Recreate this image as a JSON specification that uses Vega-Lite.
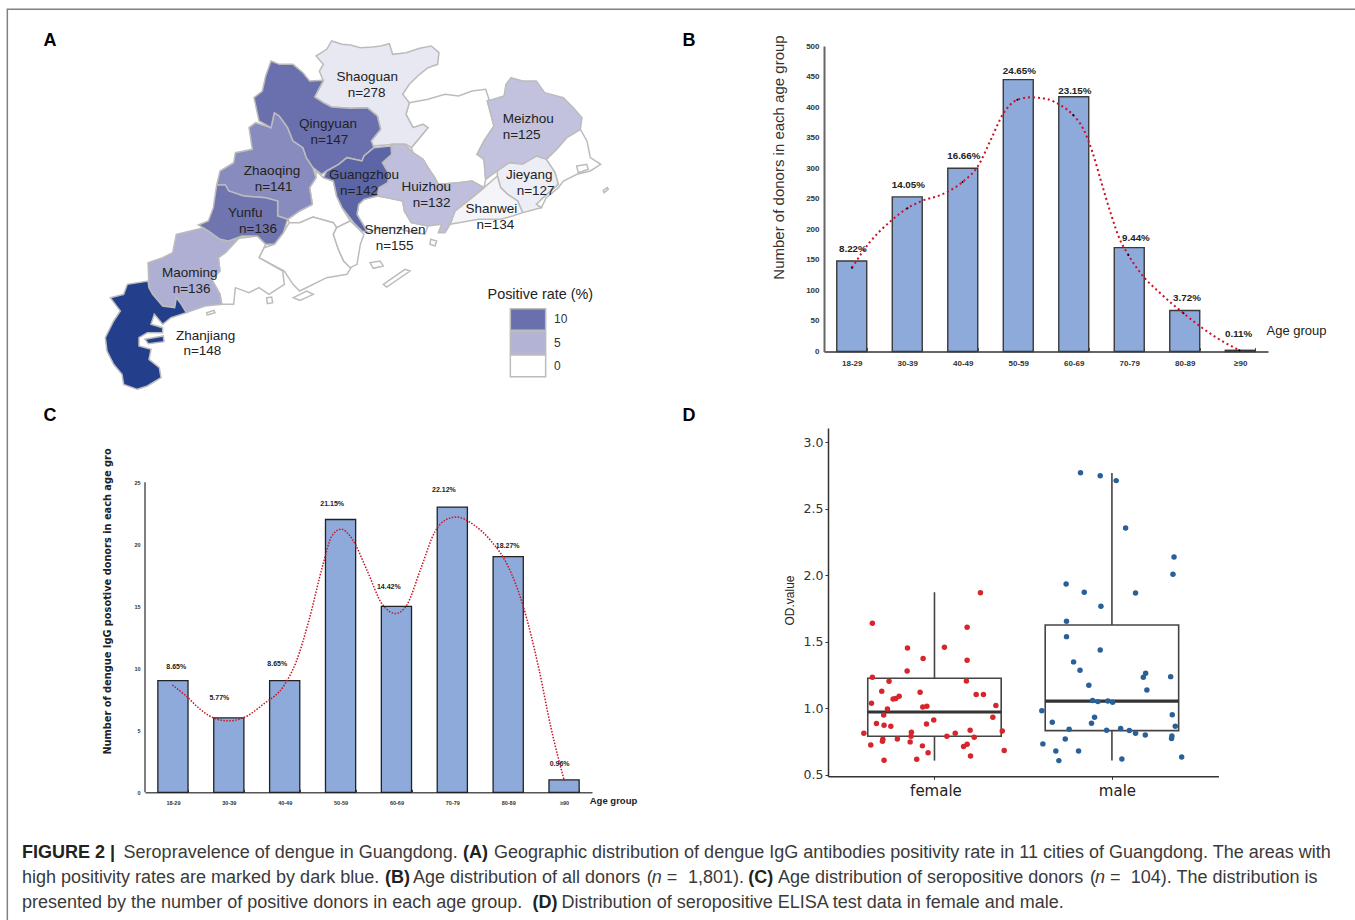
{
"$schema":"https://vega.github.io/schema/vega-lite/v6.json",
"padding":0,"background":"white","bounds":"flush","spacing":0,"columns":4,"align":"each",
"config":{"view":{"stroke":null},"font":"Liberation Sans","text":{"fontSize":1}},
"datasets":{
"empty":[{"s":""}],
"bars1":[{"age":"18-29","n":148},{"age":"30-39","n":253},{"age":"40-49","n":300},{"age":"50-59","n":445},{"age":"60-69","n":417},{"age":"70-79","n":170},{"age":"80-89","n":67},{"age":"≥90","n":2}],
"labels1":[{"p":"8.22%","lx":0.52,"ly":168},{"p":"14.05%","lx":1.52,"ly":272},{"p":"16.66%","lx":2.52,"ly":320},{"p":"24.65%","lx":3.52,"ly":459},{"p":"23.15%","lx":4.52,"ly":427},{"p":"9.44%","lx":5.62,"ly":186},{"p":"3.72%","lx":6.54,"ly":88},{"p":"0.11%","lx":7.47,"ly":28}],
"curve1":[{"x":0.503,"y":137,"node":1},{"x":0.817,"y":178},{"x":1.209,"y":214},{"x":1.503,"y":234.5,"node":1},{"x":1.765,"y":246.5},{"x":2.124,"y":257},{"x":2.497,"y":277.5,"node":1},{"x":2.778,"y":304},{"x":3.007,"y":347},{"x":3.222,"y":388},{"x":3.484,"y":412,"node":1},{"x":3.725,"y":416},{"x":4.02,"y":413},{"x":4.28,"y":402},{"x":4.49,"y":387,"node":1},{"x":4.673,"y":364},{"x":4.84,"y":325.5},{"x":5.0,"y":276},{"x":5.163,"y":227},{"x":5.327,"y":184},{"x":5.484,"y":158,"node":1},{"x":5.72,"y":126.5},{"x":6.046,"y":96.5},{"x":6.477,"y":62.7,"node":1},{"x":6.83,"y":37.6},{"x":7.22,"y":14.7},{"x":7.484,"y":2,"node":1}],
"bars2":[{"age":"18-29","n":9},{"age":"30-39","n":6},{"age":"40-49","n":9},{"age":"50-59","n":22},{"age":"60-69","n":15},{"age":"70-79","n":23},{"age":"80-89","n":19},{"age":"≥90","n":1}],
"labels2":[{"p":"8.65%","lx":0.559,"ly":10.13},{"p":"5.77%","lx":1.331,"ly":7.58},{"p":"8.65%","lx":2.367,"ly":10.31},{"p":"21.15%","lx":3.35,"ly":23.27},{"p":"14.42%","lx":4.364,"ly":16.59},{"p":"22.12%","lx":5.35,"ly":24.36},{"p":"18.27%","lx":6.49,"ly":19.85},{"p":"0.96%","lx":7.42,"ly":2.28}],
"curve2":[{"x":0.49,"y":8.65,"node":1},{"x":0.735,"y":7.77},{"x":0.986,"y":6.7},{"x":1.237,"y":5.98},{"x":1.488,"y":5.76,"node":1},{"x":1.77,"y":6.03},{"x":2.116,"y":7.1},{"x":2.493,"y":8.65,"node":1},{"x":2.71,"y":10.58},{"x":2.93,"y":13.8},{"x":3.184,"y":18.35},{"x":3.34,"y":20.63},{"x":3.51,"y":21.22,"node":1},{"x":3.717,"y":20.36},{"x":3.969,"y":17.95},{"x":4.25,"y":15.14},{"x":4.49,"y":14.42,"node":1},{"x":4.69,"y":15.14},{"x":4.94,"y":18.09},{"x":5.19,"y":21.03},{"x":5.38,"y":21.97},{"x":5.57,"y":22.2,"node":1},{"x":5.884,"y":21.57},{"x":6.2,"y":20.23},{"x":6.49,"y":18.3,"node":1},{"x":6.76,"y":15.14},{"x":7.045,"y":10.05},{"x":7.265,"y":5.22},{"x":7.504,"y":0.94,"node":1}],
"boxes":[{"sex":"female","pos":1,"left":0.624,"right":1.376,"q1":0.788,"median":0.971,"q3":1.225,"max":1.872,"min":0.605},{"sex":"male","pos":2,"left":1.624,"right":2.376,"q1":0.831,"median":1.052,"q3":1.626,"max":2.769,"min":0.605}],
"od":[
{"sex":"female","p":0.650,"od":1.638},{"sex":"female","p":1.259,"od":1.869},{"sex":"female","p":1.184,"od":1.608},{"sex":"female","p":0.848,"od":1.453},{"sex":"female","p":1.056,"od":1.458},{"sex":"female","p":0.936,"od":1.373},{"sex":"female","p":1.184,"od":1.360},{"sex":"female","p":0.846,"od":1.280},{"sex":"female","p":0.650,"od":1.232},{"sex":"female","p":0.744,"od":1.202},{"sex":"female","p":1.180,"od":1.205},{"sex":"female","p":0.703,"od":1.127},{"sex":"female","p":0.919,"od":1.119},{"sex":"female","p":0.801,"od":1.089},{"sex":"female","p":0.782,"od":1.072},{"sex":"female","p":0.767,"od":1.069},{"sex":"female","p":1.235,"od":1.102},{"sex":"female","p":1.276,"od":1.102},{"sex":"female","p":0.645,"od":1.037},{"sex":"female","p":1.346,"od":1.019},{"sex":"female","p":0.957,"od":1.014},{"sex":"female","p":0.934,"od":1.009},{"sex":"female","p":0.735,"od":0.994},{"sex":"female","p":0.714,"od":0.949},{"sex":"female","p":1.329,"od":0.931},{"sex":"female","p":0.996,"od":0.911},{"sex":"female","p":0.673,"od":0.884},{"sex":"female","p":0.716,"od":0.871},{"sex":"female","p":0.754,"od":0.864},{"sex":"female","p":0.955,"od":0.881},{"sex":"female","p":1.201,"od":0.834},{"sex":"female","p":1.382,"od":0.828},{"sex":"female","p":0.602,"od":0.811},{"sex":"female","p":0.870,"od":0.818},{"sex":"female","p":1.117,"od":0.811},{"sex":"female","p":0.868,"od":0.788},{"sex":"female","p":1.070,"od":0.788},{"sex":"female","p":1.224,"od":0.781},{"sex":"female","p":0.709,"od":0.766},{"sex":"female","p":0.707,"od":0.751},{"sex":"female","p":0.791,"od":0.768},{"sex":"female","p":0.863,"od":0.746},{"sex":"female","p":0.641,"od":0.723},{"sex":"female","p":0.932,"od":0.716},{"sex":"female","p":1.184,"od":0.728},{"sex":"female","p":1.164,"od":0.711},{"sex":"female","p":1.393,"od":0.681},{"sex":"female","p":0.964,"od":0.665},{"sex":"female","p":1.203,"od":0.640},{"sex":"female","p":0.900,"od":0.615},{"sex":"female","p":0.716,"od":0.608},
{"sex":"male","p":1.823,"od":2.772},{"sex":"male","p":1.934,"od":2.749},{"sex":"male","p":2.024,"od":2.712},{"sex":"male","p":2.077,"od":2.356},{"sex":"male","p":2.350,"od":2.137},{"sex":"male","p":2.344,"od":2.007},{"sex":"male","p":1.742,"od":1.934},{"sex":"male","p":1.844,"od":1.872},{"sex":"male","p":2.133,"od":1.867},{"sex":"male","p":1.938,"od":1.766},{"sex":"male","p":1.744,"od":1.653},{"sex":"male","p":1.744,"od":1.538},{"sex":"male","p":1.934,"od":1.438},{"sex":"male","p":1.784,"od":1.348},{"sex":"male","p":1.820,"od":1.285},{"sex":"male","p":2.190,"od":1.262},{"sex":"male","p":2.177,"od":1.232},{"sex":"male","p":2.331,"od":1.237},{"sex":"male","p":1.870,"od":1.172},{"sex":"male","p":2.197,"od":1.137},{"sex":"male","p":1.891,"od":1.057},{"sex":"male","p":1.921,"od":1.049},{"sex":"male","p":1.977,"od":1.054},{"sex":"male","p":2.004,"od":1.044},{"sex":"male","p":1.605,"od":0.981},{"sex":"male","p":2.340,"od":0.951},{"sex":"male","p":1.902,"od":0.931},{"sex":"male","p":1.664,"od":0.894},{"sex":"male","p":1.885,"od":0.886},{"sex":"male","p":2.357,"od":0.864},{"sex":"male","p":1.759,"od":0.841},{"sex":"male","p":1.970,"od":0.834},{"sex":"male","p":2.049,"od":0.846},{"sex":"male","p":2.098,"od":0.831},{"sex":"male","p":2.133,"od":0.811},{"sex":"male","p":2.188,"od":0.798},{"sex":"male","p":2.338,"od":0.791},{"sex":"male","p":2.336,"od":0.771},{"sex":"male","p":1.737,"od":0.768},{"sex":"male","p":1.611,"od":0.731},{"sex":"male","p":1.684,"od":0.678},{"sex":"male","p":1.812,"od":0.678},{"sex":"male","p":1.701,"od":0.605},{"sex":"male","p":2.056,"od":0.618},{"sex":"male","p":2.393,"od":0.632}],
"mapLabels":[{"t":"Shaoguan","lon":832,"lat":138},{"t":"n=278","lon":830,"lat":186},{"t":"Qingyuan","lon":714,"lat":279},{"t":"n=147","lon":718,"lat":326},{"t":"Zhaoqing","lon":546,"lat":421},{"t":"n=141","lon":551,"lat":468},{"t":"Guangzhou","lon":822,"lat":433},{"t":"n=142","lon":807,"lat":481},{"t":"Yunfu","lon":466,"lat":545},{"t":"n=136","lon":504,"lat":593},{"t":"Huizhou","lon":1009,"lat":469},{"t":"n=132","lon":1025,"lat":517},{"t":"Meizhou","lon":1315,"lat":263},{"t":"n=125","lon":1295,"lat":311},{"t":"Jieyang","lon":1318,"lat":432},{"t":"n=127","lon":1337,"lat":480},{"t":"Shanwei","lon":1204,"lat":534},{"t":"n=134","lon":1216,"lat":582},{"t":"Shenzhen","lon":915,"lat":597},{"t":"n=155","lon":914,"lat":645},{"t":"Maoming","lon":299,"lat":725},{"t":"n=136","lon":305,"lat":773},{"t":"Zhanjiang","lon":347,"lat":916},{"t":"n=148","lon":337,"lat":961}],
"legendTitle":[{"t":"Positive rate (%)","lon":1351,"lat":791}],
"legendLabels":[{"t":"10","lon":1412,"lat":865},{"t":"5","lon":1402,"lat":935},{"t":"0","lon":1402,"lat":1005}],
"letters":[{"t":"A","lon":-120,"lat":30},{"t":"B","lon":1797,"lat":30},{"t":"C","lon":-120,"lat":1155},{"t":"D","lon":1797,"lat":1155}],
"capReg":[{"x":123.6,"y":26,"t":"Seropravelence of dengue in Guangdong."},{"x":494,"y":26,"t":"Geographic distribution of dengue IgG antibodies positivity rate in 11 cities of Guangdong. The areas with"},{"x":22,"y":51,"t":"high positivity rates are marked by dark blue."},{"x":413,"y":51,"t":"Age distribution of all donors"},{"x":646.7,"y":51,"t":"("},{"x":666.7,"y":51,"t":"="},{"x":688,"y":51,"t":"1,801)."},{"x":778,"y":51,"t":"Age distribution of seropositive donors"},{"x":1090,"y":51,"t":"("},{"x":1110,"y":51,"t":"="},{"x":1130.7,"y":51,"t":"104). The distribution is"},{"x":22,"y":76,"t":"presented by the number of positive donors in each age group."},{"x":561.6,"y":76,"t":"Distribution of seropositive ELISA test data in female and male."}],
"capBold":[{"x":22,"y":26,"t":"FIGURE 2 |"},{"x":463,"y":26,"t":"(A)"},{"x":385,"y":51,"t":"(B)"},{"x":748.3,"y":51,"t":"(C)"},{"x":532.5,"y":76,"t":"(D)"}],
"capIt":[{"x":651.7,"y":51,"t":"n"},{"x":1095,"y":51,"t":"n"}]
},
"concat":[
 {"width":145,"height":45,
  "projection":{"type":"identity","scale":0.33333,"translate":[90,30]},
  "layer":[
   {"data":{"values":[
    {"type":"Feature","properties":{"name":"Heyuan","rate":0},"geometry":{"type":"Polygon","coordinates":[[[958,215],[1014,205],[1065,190],[1106,195],[1146,180],[1187,175],[1197,205],[1192,210],[1212,285],[1182,330],[1161,370],[1182,385],[1187,445],[1182,470],[1146,450],[1106,455],[1045,460],[1014,410],[999,385],[969,365],[964,350],[989,320],[1014,290],[999,280],[969,290],[948,250],[958,215]]]}},
    {"type":"Feature","properties":{"name":"Chaoshan","rate":0},"geometry":{"type":"Polygon","coordinates":[[[1471,295],[1491,330],[1501,380],[1532,400],[1501,420],[1461,430],[1420,450],[1405,470],[1369,500],[1354,530],[1339,520],[1359,500],[1405,460],[1395,425],[1369,385],[1400,355],[1430,320],[1471,295]]]}},
    {"type":"Feature","properties":{"name":"Dongguan-Shenzhen","rate":0},"geometry":{"type":"Polygon","coordinates":[[[822,505],[862,495],[893,500],[938,510],[943,540],[964,575],[1014,585],[1004,610],[953,600],[913,590],[872,590],[832,605],[822,585],[801,550],[806,520],[822,505]]]}},
    {"type":"Feature","properties":{"name":"Foshan","rate":0},"geometry":{"type":"Polygon","coordinates":[[[678,420],[700,440],[730,450],[740,495],[756,530],[781,570],[740,590],[730,575],[669,558],[629,575],[598,575],[593,565],[629,540],[667,520],[659,470],[678,440],[678,420]]]}},
    {"type":"Feature","properties":{"name":"Jiangmen","rate":0},"geometry":{"type":"Polygon","coordinates":[[[580,605],[598,575],[629,575],[669,558],[730,575],[740,590],[730,610],[745,655],[761,690],[781,710],[801,680],[771,730],[710,740],[629,780],[609,760],[583,720],[507,680],[522,650],[553,640],[580,605]]]}},
    {"type":"Feature","properties":{"name":"Zhongshan","rate":0},"geometry":{"type":"Polygon","coordinates":[[[781,570],[822,610],[811,640],[801,700],[781,710],[761,690],[745,655],[730,610],[740,590],[781,570]]]}},
    {"type":"Feature","properties":{"name":"Yangjiang","rate":0},"geometry":{"type":"Polygon","coordinates":[[[446,622],[502,615],[527,640],[507,680],[578,720],[583,760],[537,790],[507,770],[477,785],[436,770],[431,820],[395,820],[390,790],[365,745],[390,720],[385,680],[406,665],[446,622]]]}},
    {"type":"Feature","properties":{"name":"Shaoguan","rate":1.5},"geometry":{"type":"Polygon","coordinates":[[[700,150],[688,120],[700,100],[678,75],[710,55],[725,30],[756,40],[781,42],[811,50],[847,48],[872,45],[898,38],[908,70],[948,65],[989,52],[1024,45],[1047,65],[1043,100],[1014,110],[989,130],[958,160],[938,190],[958,215],[948,250],[969,290],[999,280],[1014,290],[989,320],[964,350],[948,340],[913,340],[850,345],[842,330],[872,295],[862,255],[832,230],[781,232],[725,228],[700,215],[674,198],[700,150]]]}},
    {"type":"Feature","properties":{"name":"Meizhou","rate":4},"geometry":{"type":"Polygon","coordinates":[[[1263,140],[1298,150],[1339,150],[1364,185],[1420,200],[1450,230],[1476,260],[1471,295],[1430,320],[1400,355],[1369,385],[1339,375],[1298,400],[1258,395],[1222,420],[1187,445],[1182,385],[1161,370],[1182,330],[1212,285],[1192,210],[1242,195],[1248,160],[1263,140]]]}},
    {"type":"Feature","properties":{"name":"Jieyang","rate":1.2},"geometry":{"type":"Polygon","coordinates":[[[1222,420],[1258,395],[1298,400],[1339,375],[1369,385],[1395,425],[1405,460],[1359,500],[1339,520],[1354,530],[1298,545],[1283,510],[1253,490],[1232,470],[1222,435],[1222,420]]]}},
    {"type":"Feature","properties":{"name":"Shanwei","rate":0.7},"geometry":{"type":"Polygon","coordinates":[[[1222,435],[1232,470],[1253,490],[1283,510],[1298,545],[1268,555],[1232,565],[1166,565],[1106,575],[1080,580],[1095,540],[1146,500],[1182,470],[1222,435]]]}},
    {"type":"Feature","properties":{"name":"Huizhou","rate":4.2},"geometry":{"type":"Polygon","coordinates":[[[905,340],[943,340],[969,365],[999,385],[1014,410],[1035,440],[1045,460],[1106,455],[1146,450],[1182,470],[1146,500],[1095,540],[1080,580],[1065,605],[1045,605],[1055,580],[1014,585],[964,575],[943,540],[938,510],[893,500],[862,495],[867,470],[893,455],[898,430],[877,395],[905,370],[905,340]]]}},
    {"type":"Feature","properties":{"name":"Maoming","rate":5.3},"geometry":{"type":"Polygon","coordinates":[[[335,592],[355,600],[390,625],[416,630],[446,622],[406,665],[385,680],[390,720],[365,745],[390,790],[395,820],[345,825],[289,845],[274,820],[259,800],[254,830],[218,825],[188,790],[177,770],[174,695],[218,680],[248,665],[259,610],[335,592]]]}},
    {"type":"Feature","properties":{"name":"Zhaoqing","rate":8},"geometry":{"type":"Polygon","coordinates":[[[553,245],[568,255],[593,290],[609,330],[639,350],[649,380],[669,410],[678,440],[659,470],[667,520],[629,540],[593,565],[563,555],[563,510],[527,500],[461,495],[416,480],[406,462],[380,462],[390,420],[431,395],[436,365],[487,355],[477,290],[497,275],[543,290],[553,245]]]}},
    {"type":"Feature","properties":{"name":"Yunfu","rate":9.6},"geometry":{"type":"Polygon","coordinates":[[[380,462],[406,462],[416,480],[461,495],[527,500],[563,510],[563,555],[593,565],[580,605],[553,640],[527,640],[502,615],[456,615],[416,630],[390,625],[355,600],[325,582],[355,570],[370,530],[380,462]]]}},
    {"type":"Feature","properties":{"name":"Qingyuan","rate":10},"geometry":{"type":"Polygon","coordinates":[[[543,90],[568,100],[609,100],[639,125],[659,150],[700,148],[674,198],[700,215],[725,228],[781,232],[832,230],[862,255],[872,295],[844,330],[852,350],[822,375],[816,390],[771,380],[746,400],[710,420],[695,430],[669,410],[649,380],[639,350],[609,330],[593,290],[568,255],[553,245],[543,290],[507,270],[492,200],[517,180],[527,135],[543,90]]]}},
    {"type":"Feature","properties":{"name":"Guangzhou","rate":11},"geometry":{"type":"Polygon","coordinates":[[[903,345],[905,370],[877,395],[898,430],[893,455],[867,470],[862,495],[822,505],[806,520],[801,550],[822,585],[832,605],[816,600],[791,575],[756,530],[740,495],[730,450],[700,440],[710,420],[746,400],[771,380],[816,390],[822,375],[852,350],[903,345]]]}},
    {"type":"Feature","properties":{"name":"Zhanjiang","rate":15},"geometry":{"type":"Polygon","coordinates":[[[174,750],[177,770],[188,790],[218,825],[254,830],[259,800],[274,820],[289,845],[243,860],[218,880],[193,850],[183,880],[218,890],[218,905],[172,905],[147,920],[147,945],[183,955],[177,985],[208,1010],[213,1040],[172,1065],[142,1075],[101,1060],[96,1030],[71,1000],[51,960],[46,920],[71,870],[91,840],[61,800],[101,790],[112,760],[174,750]]]}},
    {"type":"Feature","properties":{"name":"Zhanjiang island","rate":15},"geometry":{"type":"Polygon","coordinates":[[[165,925],[220,915],[222,932],[175,938],[165,925]]]}},
    {"type":"Feature","properties":{"name":"island","rate":0},"geometry":{"type":"MultiPolygon","coordinates":[[[[840,695],[870,690],[880,705],[850,712],[840,695]]],[[[880,760],[945,715],[960,720],[890,768],[880,760]]],[[[610,800],[650,780],[670,790],[630,808],[610,800]]],[[[530,800],[545,798],[548,815],[532,818],[530,800]]],[[[350,845],[372,838],[375,845],[352,852],[350,845]]],[[[1022,625],[1040,630],[1035,645],[1020,640],[1022,625]]],[[[1540,478],[1552,470],[1555,475],[1542,485],[1540,478]]],[[[1460,405],[1490,400],[1495,415],[1465,425],[1460,405]]]]}},
    {"type":"Feature","properties":{"name":"key 10","rate":10},"geometry":{"type":"Polygon","coordinates":[[[1261,833],[1367,833],[1367,898],[1261,898],[1261,833]]]}},
    {"type":"Feature","properties":{"name":"key 5","rate":5},"geometry":{"type":"Polygon","coordinates":[[[1261,902],[1367,902],[1367,970],[1261,970],[1261,902]]]}},
    {"type":"Feature","properties":{"name":"key 0","rate":0},"geometry":{"type":"Polygon","coordinates":[[[1261,972],[1367,972],[1367,1037],[1261,1037],[1261,972]]]}}
   ]},
   "mark":{"type":"geoshape","stroke":"#bcbcbc","strokeWidth":1.5,"clip":false},
   "encoding":{"fill":{"field":"properties.rate","type":"quantitative","legend":null,"scale":{"domain":[0,5,10,15],"range":["#ffffff","#b3b3d6","#6a70ad","#233f8c"],"interpolate":"rgb"}}}},
   {"data":{"values":[{"type":"Feature","properties":{"name":"frame"},"geometry":{"type":"LineString","coordinates":[[-248,2670],[-248,-65],[3795,-65]]}}]},
    "mark":{"type":"geoshape","filled":false,"stroke":"#808080","strokeWidth":1.5,"clip":false}},
   {"data":{"name":"mapLabels"},"mark":{"type":"text","font":"Liberation Sans","fontSize":13.5,"fill":"#222222","clip":false},
    "encoding":{"longitude":{"field":"lon","type":"quantitative"},"latitude":{"field":"lat","type":"quantitative"},"text":{"field":"t"}}},
   {"data":{"name":"legendTitle"},"mark":{"type":"text","font":"Liberation Sans","fontSize":14.4,"fill":"#222222","clip":false},
    "encoding":{"longitude":{"field":"lon","type":"quantitative"},"latitude":{"field":"lat","type":"quantitative"},"text":{"field":"t"}}},
   {"data":{"name":"legendLabels"},"mark":{"type":"text","font":"Liberation Sans","fontSize":12,"fill":"#333333","clip":false},
    "encoding":{"longitude":{"field":"lon","type":"quantitative"},"latitude":{"field":"lat","type":"quantitative"},"text":{"field":"t"}}},
   {"data":{"name":"letters"},"mark":{"type":"text","font":"Liberation Sans","fontWeight":"bold","fontSize":18,"fill":"#000000","clip":false},
    "encoding":{"longitude":{"field":"lon","type":"quantitative"},"latitude":{"field":"lat","type":"quantitative"},"text":{"field":"t"}}}
  ]},
 {"width":1,"height":1,"data":{"name":"empty"},"mark":"text","encoding":{"text":{"field":"s"}}},
 {"width":1,"height":1,"data":{"name":"empty"},"mark":"text","encoding":{"text":{"field":"s"}}},
 {"width":1,"height":1,"data":{"name":"empty"},"mark":"text","encoding":{"text":{"field":"s"}}},

 {"width":1,"height":381.7,"data":{"name":"empty"},"mark":"text","encoding":{"text":{"field":"s"}}},
 {"width":1,"height":1,"data":{"name":"empty"},"mark":"text","encoding":{"text":{"field":"s"}}},
 {"width":1,"height":1,"data":{"name":"empty"},"mark":"text","encoding":{"text":{"field":"s"}}},
 {"width":444,"height":305.5,"resolve":{"scale":{"x":"independent"}},"layer":[
   {"data":{"name":"bars1"},"mark":{"type":"bar","fill":"#8eaadb","stroke":"#3a3a3a","strokeWidth":1.4},
    "encoding":{"x":{"field":"age","type":"nominal","sort":null,"scale":{"paddingInner":0.46,"paddingOuter":0.23},
      "axis":{"title":"Age group","titleX":472,"titleY":-21,"titleFont":"Liberation Sans","titleFontSize":13,"titleFontWeight":"normal","titleColor":"#222222","titleBaseline":"middle","titleAlign":"center","labelAngle":0,"labelFont":"Liberation Sans","labelFontWeight":"bold","labelFontSize":8,"labelColor":"#333333","labelPadding":12,"tickBand":"extent","tickSize":-4,"tickColor":"#555555","domainColor":"#666666","domainWidth":2}},
     "y":{"field":"n","type":"quantitative","scale":{"domain":[0,500],"nice":false},
      "axis":{"title":"Number of  donors  in each age group","titleFont":"Liberation Sans","titleFontSize":15,"titleFontWeight":"normal","titleColor":"#333333","titleX":-46,"titleY":111,"titleBaseline":"middle","values":[0,50,100,150,200,250,300,350,400,450,500],"tickCount":20,"labelOverlap":false,"grid":false,"ticks":false,"labelFont":"Liberation Sans","labelFontWeight":"bold","labelFontSize":8,"labelColor":"#333333","labelPadding":5,"domainColor":"#666666","domainWidth":2}}}},
   {"data":{"name":"curve1"},"mark":{"type":"line","stroke":"#cc1122","strokeWidth":2,"strokeDash":[2,3],"interpolate":"monotone"},
    "encoding":{"x":{"field":"x","type":"quantitative","axis":null,"scale":{"domain":[0,8],"nice":false}},"y":{"field":"y","type":"quantitative"}}},
   {"data":{"name":"curve1"},"transform":[{"filter":"datum.node==1"}],"mark":{"type":"point","filled":true,"fill":"#000000","size":4,"opacity":1},
    "encoding":{"x":{"field":"x","type":"quantitative","axis":null,"scale":{"domain":[0,8],"nice":false}},"y":{"field":"y","type":"quantitative"}}},
   {"data":{"name":"labels1"},"mark":{"type":"text","font":"Liberation Sans","fontWeight":"bold","fontSize":9.8,"fill":"#222222"},
    "encoding":{"x":{"field":"lx","type":"quantitative","axis":null,"scale":{"domain":[0,8],"nice":false}},"y":{"field":"ly","type":"quantitative"},"text":{"field":"p"}}}
  ]},

 {"width":1,"height":1,"data":{"name":"empty"},"mark":"text","encoding":{"text":{"field":"s"}}},
 {"width":447,"height":364.3,"resolve":{"scale":{"x":"independent"}},"layer":[
   {"data":{"name":"bars2"},"mark":{"type":"bar","fill":"#8eaadb","stroke":"#222222","strokeWidth":1.3},
    "encoding":{"x":{"field":"age","type":"nominal","sort":null,"scale":{"paddingInner":0.46,"paddingOuter":0.23},
      "axis":{"title":"Age group","titleX":468,"titleY":8,"titleFont":"Liberation Sans","titleFontSize":9.5,"titleFontWeight":"bold","titleColor":"#222222","titleBaseline":"middle","titleAlign":"center","labelAngle":0,"labelFont":"Liberation Sans","labelFontWeight":"bold","labelFontSize":5.5,"labelColor":"#333333","labelPadding":11,"tickBand":"extent","tickSize":-3,"tickColor":"#444444","domainColor":"#555555","domainWidth":1.5}},
     "y":{"field":"n","type":"quantitative","scale":{"domain":[0,29.379],"nice":false},
      "axis":{"title":"Number of dengue IgG posotive donors  in each age gro","titleFont":"DejaVu Sans","titleFontSize":9.8,"titleFontWeight":"bold","titleColor":"#222222","titleX":-38,"titleY":173,"titleBaseline":"middle","values":[0,5,10,15,20,25],"tickCount":20,"labelOverlap":false,"domain":false,"grid":false,"ticks":false,"labelFont":"Liberation Sans","labelFontWeight":"bold","labelFontSize":5.5,"labelColor":"#333333","labelPadding":5}}}},
   {"data":{"values":[{"x":0,"y":0,"y2":25}]},"mark":{"type":"rule","stroke":"#555555","strokeWidth":1.5},
    "encoding":{"x":{"field":"x","type":"quantitative","axis":null,"scale":{"domain":[0,8],"nice":false}},"y":{"field":"y","type":"quantitative"},"y2":{"field":"y2"}}},
   {"data":{"name":"curve2"},"mark":{"type":"line","stroke":"#cc1122","strokeWidth":1.5,"strokeDash":[1.5,1.5],"interpolate":"monotone"},
    "encoding":{"x":{"field":"x","type":"quantitative","axis":null,"scale":{"domain":[0,8],"nice":false}},"y":{"field":"y","type":"quantitative"}}},
   {"data":{"name":"labels2"},"mark":{"type":"text","font":"Liberation Sans","fontWeight":"bold","fontSize":7,"fill":"#222222"},
    "encoding":{"x":{"field":"lx","type":"quantitative","axis":null,"scale":{"domain":[0,8],"nice":false}},"y":{"field":"ly","type":"quantitative"},"text":{"field":"p"}}}
  ]},
 {"width":231.3,"height":1,"data":{"name":"empty"},"mark":"text","encoding":{"text":{"field":"s"}}},
 {"width":394.4,"height":348.3,"layer":[
   {"data":{"name":"boxes"},"mark":{"type":"rect","fillOpacity":0,"fill":"#ffffff","stroke":"#444444","strokeWidth":1.6},
    "encoding":{"x":{"field":"left","type":"quantitative","scale":{"domain":[0.4,2.6],"nice":false,"range":[4,394.4]},
      "axis":{"title":null,"values":[1,2],"labelExpr":"datum.value==1?'female':'male'","grid":false,"labelFont":"DejaVu Sans","labelFontSize":15,"labelColor":"#222222","labelPadding":4,"tickSize":3,"tickColor":"#333333","domainColor":"#333333","domainWidth":1.5,"labelOffset":{"condition":{"test":"datum.value==2","value":5},"value":1}}},
     "x2":{"field":"right"},
     "y":{"field":"q1","type":"quantitative","scale":{"domain":[0.487,3.108],"nice":false},
      "axis":{"title":"OD.value","titleFont":"Liberation Sans","titleFontSize":12,"titleFontWeight":"normal","titleColor":"#222222","titleX":-39,"titleY":172,"titleBaseline":"middle","values":[0.5,1,1.5,2,2.5,3],"tickCount":20,"format":".1f","offset":-4,"grid":false,"labelFont":"DejaVu Sans","labelFontSize":12.5,"labelColor":"#333333","tickSize":3,"tickColor":"#333333","domainColor":"#333333","domainWidth":1.5}},
     "y2":{"field":"q3"}}},
   {"data":{"name":"boxes"},"mark":{"type":"rule","stroke":"#444444","strokeWidth":1.6},"encoding":{"x":{"field":"pos","type":"quantitative"},"y":{"field":"q3","type":"quantitative"},"y2":{"field":"max"}}},
   {"data":{"name":"boxes"},"mark":{"type":"rule","stroke":"#444444","strokeWidth":1.6},"encoding":{"x":{"field":"pos","type":"quantitative"},"y":{"field":"q1","type":"quantitative"},"y2":{"field":"min"}}},
   {"data":{"name":"boxes"},"mark":{"type":"rule","stroke":"#333333","strokeWidth":3.2},"encoding":{"x":{"field":"left","type":"quantitative"},"x2":{"field":"right"},"y":{"field":"median","type":"quantitative"}}},
   {"data":{"name":"od"},"mark":{"type":"circle","size":30,"opacity":1},"encoding":{"x":{"field":"p","type":"quantitative"},"y":{"field":"od","type":"quantitative"},"color":{"field":"sex","type":"nominal","legend":null,"scale":{"domain":["female","male"],"range":["#d6262c","#2a6099"]}}}}
  ]},

 {"width":1,"height":34,"data":{"name":"empty"},"mark":"text","encoding":{"text":{"field":"s"}}},
 {"width":1,"height":1,"data":{"name":"empty"},"mark":"text","encoding":{"text":{"field":"s"}}},
 {"width":1,"height":1,"data":{"name":"empty"},"mark":"text","encoding":{"text":{"field":"s"}}},
 {"width":1,"height":1,"data":{"name":"empty"},"mark":"text","encoding":{"text":{"field":"s"}}},

 {"width":145,"height":95,"layer":[
  {"data":{"name":"capReg"},"mark":{"type":"text","align":"left","font":"Liberation Sans","fontSize":18,"fill":"#3a3a3a"},
   "encoding":{"x":{"field":"x","type":"quantitative","axis":null,"scale":{"domain":[0,145]}},"y":{"field":"y","type":"quantitative","axis":null,"scale":{"domain":[0,95],"reverse":true}},"text":{"field":"t"}}},
  {"data":{"name":"capBold"},"mark":{"type":"text","align":"left","font":"Liberation Sans","fontWeight":"bold","fontSize":18,"fill":"#222222"},
   "encoding":{"x":{"field":"x","type":"quantitative","axis":null,"scale":{"domain":[0,145]}},"y":{"field":"y","type":"quantitative","axis":null,"scale":{"domain":[0,95],"reverse":true}},"text":{"field":"t"}}},
  {"data":{"name":"capIt"},"mark":{"type":"text","align":"left","font":"Liberation Sans","fontStyle":"italic","fontSize":18,"fill":"#3a3a3a"},
   "encoding":{"x":{"field":"x","type":"quantitative","axis":null,"scale":{"domain":[0,145]}},"y":{"field":"y","type":"quantitative","axis":null,"scale":{"domain":[0,95],"reverse":true}},"text":{"field":"t"}}}
 ]},
 {"width":1,"height":1,"data":{"name":"empty"},"mark":"text","encoding":{"text":{"field":"s"}}},
 {"width":1,"height":1,"data":{"name":"empty"},"mark":"text","encoding":{"text":{"field":"s"}}},
 {"width":1,"height":1,"data":{"name":"empty"},"mark":"text","encoding":{"text":{"field":"s"}}}
]
}
